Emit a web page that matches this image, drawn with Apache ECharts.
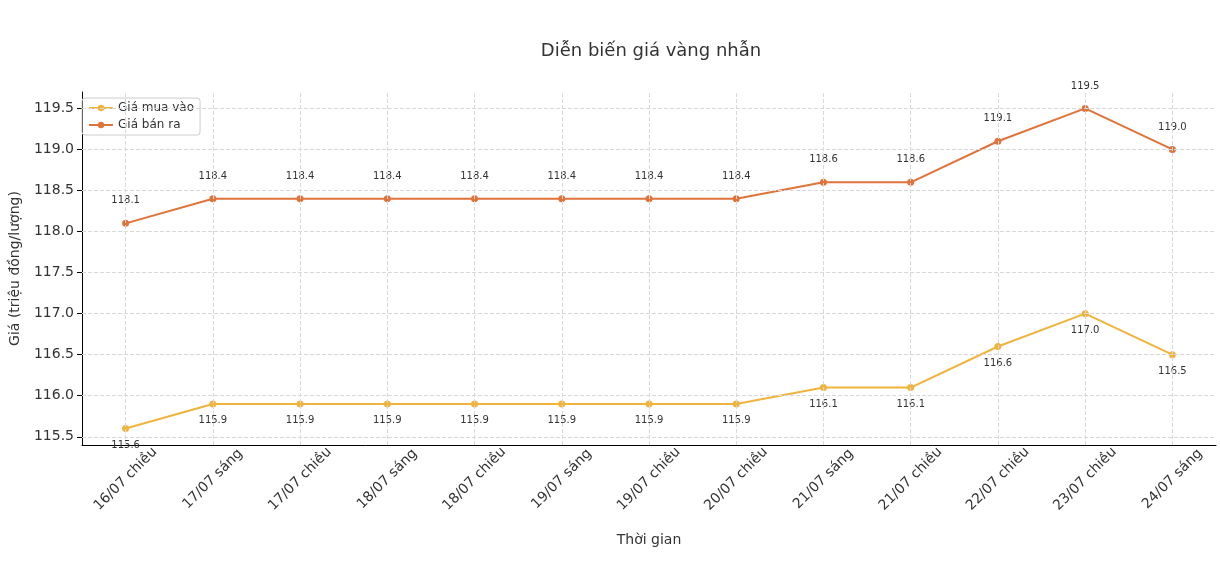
<!DOCTYPE html><html><head><meta charset="utf-8">
<script src="https://cdn.jsdelivr.net/npm/echarts@6/dist/echarts.min.js"></script>
<style>html,body{margin:0;background:#fff}#c{width:1220px;height:580px}</style></head><body><div id="c"></div>
<script>
const categories=['16/07 chiều','17/07 sáng','17/07 chiều','18/07 sáng','18/07 chiều','19/07 sáng','19/07 chiều','20/07 chiều','21/07 sáng','21/07 chiều','22/07 chiều','23/07 chiều','24/07 sáng'];
const buy=[115.6,115.9,115.9,115.9,115.9,115.9,115.9,115.9,116.1,116.1,116.6,117.0,116.5];
const sell=[118.1,118.4,118.4,118.4,118.4,118.4,118.4,118.4,118.6,118.6,119.1,119.5,119.0];
const yTicks=[115.5,116.0,116.5,117.0,117.5,118.0,118.5,119.0,119.5];
const font='DejaVu Sans';
const grid={type:'dashed',color:'#d8d8d8',width:1};
const chart=echarts.init(document.getElementById('c'));
chart.setOption({
 animation:false,
 textStyle:{fontFamily:font},
 title:{text:'Diễn biến giá vàng nhẫn',left:646,top:37,textAlign:'center',textStyle:{fontSize:18,fontWeight:'normal',color:'#333',fontFamily:font}},
 legend:{orient:'vertical',left:82,top:98,itemWidth:24,itemHeight:8,itemGap:5,padding:[4,6],borderColor:'#ccc',borderWidth:1,borderRadius:3,textStyle:{fontSize:12,color:'#333',fontFamily:font},data:['Giá mua vào','Giá bán ra']},
 grid:{left:77,right:4,top:92,bottom:135},
 xAxis:{type:'category',data:categories,boundaryGap:['4.4%','4.4%'],name:'Thời gian',nameLocation:'middle',nameGap:88,nameTextStyle:{fontSize:14,color:'#333',fontFamily:font},
  axisLine:{onZero:false,lineStyle:{color:'#000'}},axisTick:{alignWithLabel:true,lineStyle:{color:'#000'}},
  axisLabel:{rotate:45,align:'center',verticalAlign:'middle',fontSize:14,color:'#333',margin:34,fontFamily:font},
  splitLine:{show:false}},
 yAxis:{type:'value',min:115.4,max:119.7,name:'Giá (triệu đồng/lượng)',nameLocation:'middle',nameGap:60,nameTextStyle:{fontSize:14,color:'#333',fontFamily:font},
  axisLine:{show:true,lineStyle:{color:'#000'}},
  axisTick:{show:true,customValues:yTicks,lineStyle:{color:'#000'}},
  axisLabel:{customValues:yTicks,fontSize:14,color:'#333',formatter:v=>v.toFixed(1),fontFamily:font},
  splitLine:{show:false}},
 series:[
  {name:'Giá mua vào',type:'line',data:buy,color:'#f0b43c',symbol:'circle',symbolSize:7,lineStyle:{width:2},
   label:{show:true,position:'bottom',distance:8,fontSize:10,color:'#333',formatter:p=>p.value.toFixed(1)},
   markLine:{silent:true,symbol:'none',label:{show:false},lineStyle:grid,data:yTicks.map(v=>({yAxis:v}))}},
  {name:'Giá bán ra',type:'line',data:sell,color:'#e0733a',symbol:'circle',symbolSize:7,lineStyle:{width:2},
   label:{show:true,position:'top',distance:14,fontSize:10,color:'#333',formatter:p=>p.value.toFixed(1)},
   markLine:{silent:true,symbol:'none',label:{show:false},lineStyle:grid,data:categories.map(c=>({xAxis:c}))}}
 ]
});
</script></body></html>
